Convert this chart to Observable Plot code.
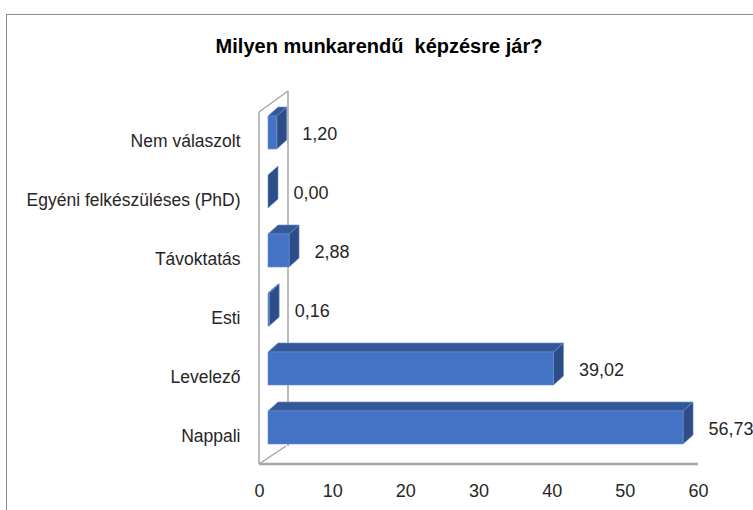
<!DOCTYPE html>
<html><head><meta charset="utf-8">
<script src="https://cdn.jsdelivr.net/npm/d3@7"></script>
<script src="https://cdn.jsdelivr.net/npm/@observablehq/plot@0.6"></script>
<style>
body{margin:0;background:#fff;font-family:"Liberation Sans",Arial,sans-serif;}
#root{position:relative;width:753px;height:510px;overflow:hidden;background:#fff;}
#border{position:absolute;left:6px;top:14px;width:800px;height:600px;border-top:1px solid #8c8c8c;border-left:1px solid #8c8c8c;pointer-events:none;}
#title{height:80px;box-sizing:border-box;padding-top:34px;padding-left:5px;text-align:center;font-weight:bold;font-size:20px;line-height:24px;color:#000;white-space:pre;}
svg{display:block;}
</style>
</head><body>
<div id="root"><div id="border"></div><div id="title"></div><div id="chart"></div></div>
<script>
const title = "Milyen munkarendű  képzésre jár?";
const categories = ["Nem válaszolt", "Egyéni felkészüléses (PhD)", "Távoktatás", "Esti", "Levelező", "Nappali"];
const values = [1.20, 0.00, 2.88, 0.16, 39.02, 56.73];
const xTicks = [0, 10, 20, 30, 40, 50, 60];

document.getElementById("title").textContent = title;
const data = categories.map((c, i) => ({cat: c, value: values[i]}));
const fmt = v => v.toFixed(2).replace(".", ",");

// 3D look (pixel offsets)
const OX = 9, OY = -8;     // bar front plane offset from the front floor edge
const DX = 10, DY = -9;    // bar depth
const WX = 29, WY = -21;   // wall depth
const C_FRONT = "#4472c4", C_TOP = "#34599b", C_SIDE = "#2c4d87", C_WALL = "#a6a6a6";

function walls(index, s, v, dim) {
  const g = d3.create("svg:g").attr("fill", "none").attr("stroke", C_WALL);
  const x0 = s.x(xTicks[0]), xe = s.x(xTicks[xTicks.length - 1]);
  const yt = dim.marginTop, yb = dim.height - dim.marginBottom;
  const seg = (a, b, c, d, w) => g.append("line").attr("x1", a).attr("y1", b).attr("x2", c).attr("y2", d).attr("stroke-width", w);
  seg(x0, yt, x0, yb, 1.5);
  seg(x0, yt, x0 + WX, yt + WY, 1.5);
  seg(x0 + WX, yt + WY, x0 + WX, yb - 18, 1.5);
  seg(x0, yb, x0 + 27, yb - 18, 1.5);
  seg(x0, yb, xe, yb, 2.5);
  return g.node();
}

function bars(index, s, v, dim) {
  const g = d3.create("svg:g");
  const bw = s.y.bandwidth();
  for (const d of data) {
    const xl = s.x(0) + OX, xr = s.x(d.value) + OX;
    const yt = s.y(d.cat) + OY, yb = yt + bw;
    const poly = (pts, fill) => g.append("polygon").attr("points", pts.map(p => p.join(",")).join(" "))
      .attr("fill", fill).attr("stroke", "#6d8fd0").attr("stroke-width", 0.6).attr("stroke-linejoin", "round");
    poly([[xr, yt], [xr + DX, yt + DY], [xr + DX, yb + DY], [xr, yb]], C_SIDE);
    if (d.value > 0) {
      poly([[xl, yt], [xr, yt], [xr + DX, yt + DY], [xl + DX, yt + DY]], C_TOP);
      poly([[xl, yt], [xr, yt], [xr, yb], [xl, yb]], C_FRONT);
    }
  }
  return g.node();
}

const chart = Plot.plot({
  width: 753,
  height: 430,
  marginTop: 32,
  marginBottom: 46,
  marginLeft: 259,
  marginRight: 55,
  style: {fontFamily: "'Liberation Sans', Arial, sans-serif", color: "#262626", background: "transparent"},
  x: {domain: [xTicks[0], xTicks[xTicks.length - 1]], label: null},
  y: {domain: categories, paddingInner: 0.44, paddingOuter: 0.2, label: null},
  marks: [
    walls,
    Plot.barX(data, {x: "value", y: "cat", fill: "none"}),
    bars,
    Plot.axisY({tickSize: 0, tickPadding: 19, fontSize: 17.5, label: null}),
    Plot.axisX({ticks: xTicks, tickSize: 0, tickPadding: 20, fontSize: 18, label: null, tickFormat: d => String(d)}),
    Plot.text(data, {x: "value", y: "cat", text: d => fmt(d.value), textAnchor: "start", dx: 34, dy: -7, fontSize: 18, fill: "#262626"})
  ]
});
document.getElementById("chart").appendChild(chart);
</script>
</body></html>
